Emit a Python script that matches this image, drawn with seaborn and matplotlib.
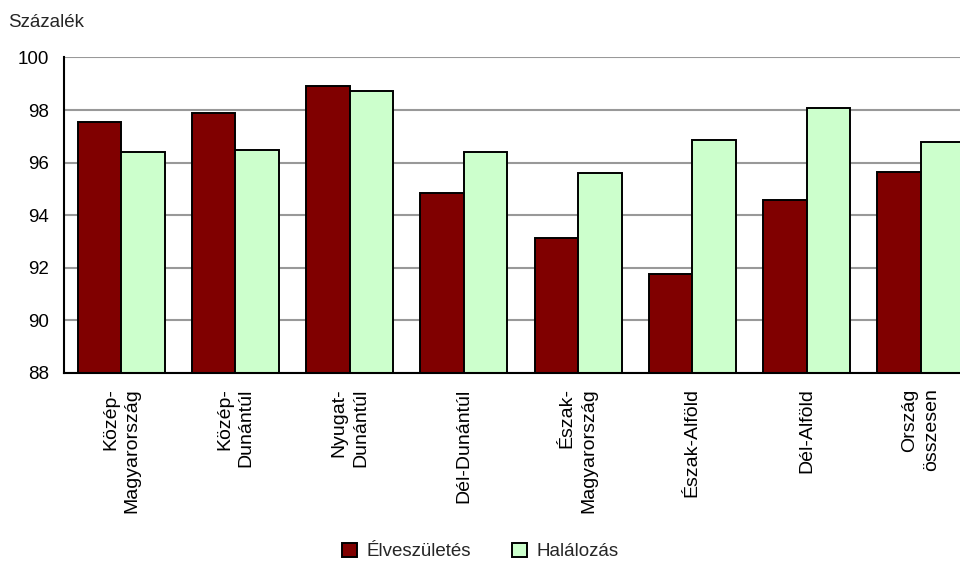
import pandas as pd
import seaborn as sns
import matplotlib.pyplot as plt

# Régiók (tengelyfeliratok) és a két sorozat értékei, százalékban
regiok = ["Közép-\nMagyarország", "Közép-\nDunántúl", "Nyugat-\nDunántúl", "Dél-Dunántúl",
          "Észak-\nMagyarország", "Észak-Alföld", "Dél-Alföld", "Ország\nösszesen"]
elveszuletes = [97.56, 97.88, 98.93, 94.85, 93.15, 91.78, 94.59, 95.66]
halalozas = [96.42, 96.49, 98.71, 96.42, 95.60, 96.87, 98.09, 96.80]
sorozatok = ["Élveszületés", "Halálozás"]
szinek = ["#800000", "#CCFFCC"]


def main():
    df = pd.DataFrame({
        "regio": regiok * 2,
        "ertek": elveszuletes + halalozas,
        "sorozat": [sorozatok[0]] * len(regiok) + [sorozatok[1]] * len(regiok),
    })

    sns.set_theme(style="white")
    plt.rcParams["font.family"] = ["Liberation Sans", "DejaVu Sans"]

    fig = plt.figure(figsize=(9.6, 5.64), dpi=100)
    # a tengely jobb széle kilóg a képből, mint az eredetin
    ax = fig.add_axes([0.0667, 0.3387, 0.952, 0.5594])

    sns.barplot(data=df, x="regio", y="ertek", hue="sorozat",
                palette=szinek, width=0.76, edgecolor="black",
                linewidth=1.4, saturation=1, ax=ax, legend=True)

    ax.set_ylim(88, 100)
    ax.set_xlim(-0.5, len(regiok) - 0.5)
    ax.set_yticks(range(88, 101, 2))
    ax.set_xlabel("")
    ax.set_ylabel("")

    ax.yaxis.grid(True, color="#999999", linewidth=1.5)
    ax.set_axisbelow(True)
    for s in ["top", "right"]:
        ax.spines[s].set_visible(False)
    for s in ["left", "bottom"]:
        ax.spines[s].set_color("black")
        ax.spines[s].set_linewidth(1.5)

    ax.tick_params(axis="both", length=0, colors="black")
    ax.tick_params(axis="y", pad=11, labelsize=13.5)
    ax.tick_params(axis="x", pad=11, labelsize=14)
    for t in ax.get_xticklabels():
        t.set_rotation(90)
        t.set_va("top")
        t.set_ha("center")
        t.set_multialignment("right")
        t.set_linespacing(1.35)

    fig.text(0.008, 0.96, "Százalék", fontsize=13.5, ha="left", va="center")

    handles, labels = ax.get_legend_handles_labels()
    ax.get_legend().remove()
    fig.legend(handles, labels, loc="center", bbox_to_anchor=(0.5, 0.022),
               ncol=2, frameon=False, fontsize=13.5, handlelength=0.8,
               handleheight=0.8, handletextpad=0.5, columnspacing=2.2)

    fig.savefig("out.png", dpi=100)
    plt.close(fig)


if __name__ == "__main__":
    main()
